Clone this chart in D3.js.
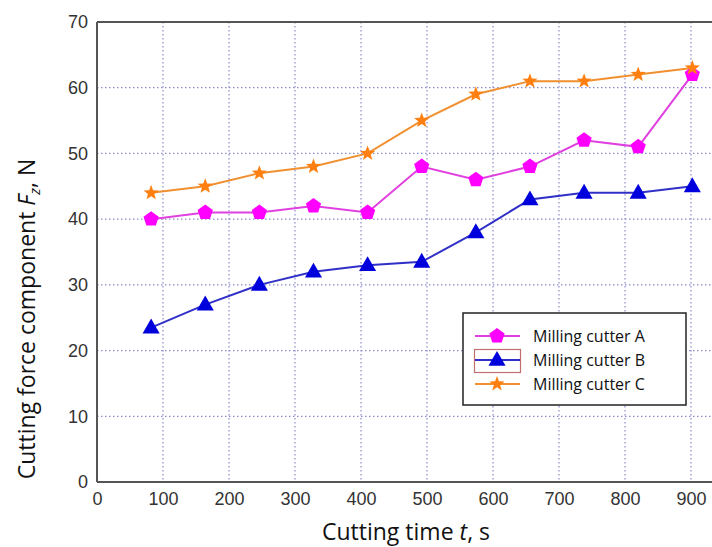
<!DOCTYPE html>
<html><head><meta charset="utf-8">
<script src="https://cdn.jsdelivr.net/npm/d3@7"></script>
<style>body{margin:0;background:#fff}svg{display:block}</style>
</head><body>
<svg id="c" width="712" height="547"></svg>
<script>
const times = [82,164,246,328,410,492,574,656,738,820,902];
const cutterA = [40,41,41,42,41,48,46,48,52,51,62];
const cutterB = [23.5,27,30,32,33,33.5,38,43,44,44,45];
const cutterC = [44,45,47,48,50,55,59,61,61,62,63];
const seriesNames = ["Milling cutter A","Milling cutter B","Milling cutter C"];
const xTicks = [0,100,200,300,400,500,600,700,800,900];
const yTicks = [0,10,20,30,40,50,60,70];

const svg = d3.select("#c");
const L=97, T=22, B=482;
const x = d3.scaleLinear().domain([0,1000]).range([L, L+660]);
const y = d3.scaleLinear().domain([0,70]).range([B, T]);

// grid
const g = svg.append("g");
g.selectAll(".vx").data(xTicks.filter(d=>d>0)).join("line")
  .attr("x1",d=>x(d)).attr("x2",d=>x(d)).attr("y1",T).attr("y2",B)
  .attr("stroke","#8a8ad0").attr("stroke-width",1.2).attr("stroke-dasharray","1.5,2.5");
g.selectAll(".hy").data(yTicks.filter(d=>d>0&&d<70)).join("line")
  .attr("x1",L).attr("x2",712).attr("y1",d=>y(d)).attr("y2",d=>y(d))
  .attr("stroke","#8a8ad0").attr("stroke-width",1.2).attr("stroke-dasharray","1.5,2.5");

// frame
svg.append("line").attr("x1",L).attr("x2",712).attr("y1",T).attr("y2",T).attr("stroke","#555").attr("stroke-width",2);
svg.append("line").attr("x1",L).attr("x2",712).attr("y1",B).attr("y2",B).attr("stroke","#555").attr("stroke-width",2);
svg.append("line").attr("x1",L).attr("x2",L).attr("y1",T).attr("y2",B).attr("stroke","#555").attr("stroke-width",2);

// axes labels
const xa = d3.axisBottom(x).tickValues(xTicks).tickSize(0).tickPadding(10);
svg.append("g").attr("transform",`translate(0,${B})`).call(xa)
  .call(s=>s.select(".domain").remove())
  .selectAll("text").attr("font-family","Liberation Sans, Arial").attr("font-size",18).attr("fill","#333");
const ya = d3.axisLeft(y).tickValues(yTicks).tickSize(0).tickPadding(9);
svg.append("g").attr("transform",`translate(${L},0)`).call(ya)
  .call(s=>s.select(".domain").remove())
  .selectAll("text").attr("font-family","Liberation Sans, Arial").attr("font-size",18).attr("fill","#333");

// titles
const xt = svg.append("text").attr("x",406).attr("y",540).attr("text-anchor","middle")
  .attr("font-family","Open Sans, Carlito, sans-serif").attr("font-size",23).attr("fill","#111");
xt.append("tspan").text("Cutting time ");
xt.append("tspan").attr("font-style","italic").text("t");
xt.append("tspan").text(", s");
const yt = svg.append("text").attr("transform","translate(35,319) rotate(-90)").attr("text-anchor","middle")
  .attr("font-family","Open Sans, Carlito, sans-serif").attr("font-size",23).attr("fill","#111");
yt.append("tspan").text("Cutting force component ");
yt.append("tspan").attr("font-style","italic").text("F");
yt.append("tspan").attr("font-style","italic").attr("font-size",15).attr("dy",5).text("z");
yt.append("tspan").attr("dy",-5).text(", N");

// markers
function pentagon(r){const p=[];for(let i=0;i<5;i++){const a=-Math.PI/2+i*2*Math.PI/5;p.push([r*Math.cos(a),r*Math.sin(a)]);}return "M"+p.map(q=>q.join(",")).join("L")+"Z";}
function triangle(r){return `M0,${-r}L${r*0.95},${r*0.65}L${-r*0.95},${r*0.65}Z`;}
function star(r){const p=[];for(let i=0;i<10;i++){const a=-Math.PI/2+i*Math.PI/5;const rr=i%2?r*0.42:r;p.push([rr*Math.cos(a),rr*Math.sin(a)]);}return "M"+p.map(q=>q.join(",")).join("L")+"Z";}

const series = [
  {name:seriesNames[0], vals:cutterA, line:"#e040e0", fill:"#ff00ff", shape:pentagon(8)},
  {name:seriesNames[1], vals:cutterB, line:"#3030c8", fill:"#0000dd", shape:triangle(9)},
  {name:seriesNames[2], vals:cutterC, line:"#f09030", fill:"#ff8010", shape:star(8)}
];
const line = d3.line().x((d,i)=>x(times[i])).y(d=>y(d));
series.forEach(s=>{
  svg.append("path").attr("d",line(s.vals)).attr("fill","none").attr("stroke",s.line).attr("stroke-width",2);
});
series.forEach(s=>{
  svg.selectAll(null).data(s.vals).join("path")
    .attr("transform",(d,i)=>`translate(${x(times[i])},${y(d)})`)
    .attr("d",s.shape).attr("fill",s.fill);
});

// legend
const lg = svg.append("g");
lg.append("rect").attr("x",463).attr("y",313).attr("width",223).attr("height",92)
  .attr("fill","#fff").attr("stroke","#222").attr("stroke-width",1.5);
lg.append("rect").attr("x",474.5).attr("y",349.5).attr("width",46).attr("height",23)
  .attr("fill","none").attr("stroke","#c07070").attr("stroke-width",1.2);
series.forEach((s,i)=>{
  const cy = 336 + i*24;
  lg.append("line").attr("x1",475).attr("x2",520).attr("y1",cy).attr("y2",cy).attr("stroke",s.line).attr("stroke-width",2);
  lg.append("path").attr("transform",`translate(497,${cy})`).attr("d",s.shape).attr("fill",s.fill);
  lg.append("text").attr("x",533).attr("y",cy+6).text(s.name)
    .attr("font-family","Open Sans, Carlito, sans-serif").attr("font-size",16).attr("fill","#111");
});
</script>
</body></html>
